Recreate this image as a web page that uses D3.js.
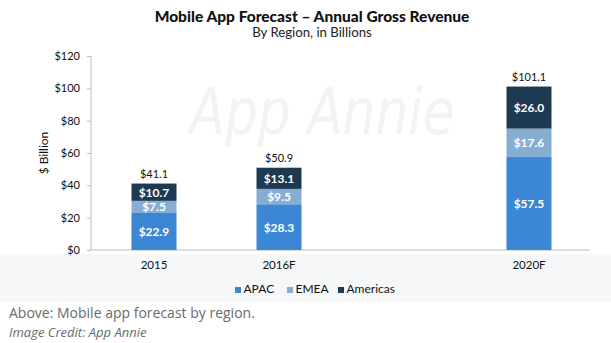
<!DOCTYPE html>
<html><head><meta charset="utf-8">
<script src="https://cdn.jsdelivr.net/npm/d3@7"></script>
<style>
body{margin:0;background:#fff;}
svg{display:block;}
</style></head>
<body>
<svg id="chart" width="611" height="343"></svg>
<script>
const categories = ["2015", "2016F", "", "2020F"];
const years = ["2015", "2016F", "2020F"];
const apac = [22.9, 28.3, 57.5];
const emea = [7.5, 9.5, 17.6];
const americas = [10.7, 13.1, 26.0];
const totals = [41.1, 50.9, 101.1];
const seriesNames = ["APAC", "EMEA", "Americas"];
const colors = ["#3b86d5", "#86aed3", "#1e3a52"];
const yTicks = [0, 20, 40, 60, 80, 100, 120];

const svg = d3.select("#chart");
const font = "Lato, 'Open Sans', sans-serif";

// bottom tinted band
svg.append("rect").attr("x", 0).attr("y", 254).attr("width", 611).attr("height", 48).attr("fill", "#f5f7f9");

// watermark
svg.append("text").attr("x", 0).attr("y", 0).attr("text-anchor", "middle")
  .attr("font-family", "'Liberation Sans Narrow','DejaVu Sans Condensed',sans-serif").attr("font-style", "italic")
  .attr("font-size", 64).attr("fill", "#f3f3f3").attr("transform", "translate(322,134) scale(0.9,1)").text("App Annie");

const x = d3.scaleBand().domain(categories).range([91.5, 591.5]).paddingInner(0.64).paddingOuter(0.32);
const y = d3.scaleLinear().domain([0, 120]).range([250, 56]);

// title
svg.append("text").attr("x", 312).attr("y", 22).attr("text-anchor", "middle")
  .attr("font-family", font).attr("font-weight", 900).attr("font-size", 15.5).attr("fill", "#111")
  .text("Mobile App Forecast – Annual Gross Revenue");
svg.append("text").attr("x", 312).attr("y", 37).attr("text-anchor", "middle")
  .attr("font-family", font).attr("font-size", 13.2).attr("fill", "#222")
  .text("By Region, in Billions");

// y axis
const yAxis = svg.append("g").attr("transform", "translate(91,0)")
  .call(d3.axisLeft(y).tickValues(yTicks).tickSize(4).tickPadding(7).tickFormat(d => "$" + d));
yAxis.select(".domain").attr("stroke", "#bbb").attr("d", "M0," + y(120) + "V" + y(0));
yAxis.selectAll(".tick line").attr("stroke", "#bbb");
yAxis.selectAll(".tick text").attr("font-family", font).attr("font-size", 11).attr("fill", "#111");

svg.append("text").attr("transform", "translate(48,153) rotate(-90)").attr("text-anchor", "middle")
  .attr("font-family", font).attr("font-size", 12).attr("fill", "#111").text("$ Billion");

// baseline
svg.append("line").attr("x1", 91).attr("x2", 590).attr("y1", y(0)).attr("y2", y(0)).attr("stroke", "#bbb");

// stacks
const rows = years.map((yr, i) => ({year: yr, APAC: apac[i], EMEA: emea[i], Americas: americas[i], total: totals[i]}));
const stack = d3.stack().keys(seriesNames)(rows);
stack.forEach((layer, li) => {
  const g = svg.append("g");
  g.selectAll("rect").data(layer).join("rect")
    .attr("x", d => x(d.data.year)).attr("width", x.bandwidth())
    .attr("y", d => y(d[1])).attr("height", d => y(d[0]) - y(d[1]))
    .attr("fill", colors[li]);
  g.selectAll("text").data(layer).join("text")
    .attr("x", d => x(d.data.year) + x.bandwidth() / 2)
    .attr("y", d => (y(d[0]) + y(d[1])) / 2 + 4.5)
    .attr("text-anchor", "middle").attr("font-family", font).attr("font-weight", 700)
    .attr("font-size", 12).attr("fill", "#fff")
    .text(d => "$" + (d[1] - d[0]).toFixed(1));
});

svg.append("g").selectAll("text").data(rows).join("text")
  .attr("x", d => x(d.year) + x.bandwidth() / 2).attr("y", d => y(d.total) - 6)
  .attr("text-anchor", "middle").attr("font-family", font).attr("font-size", 11).attr("fill", "#111")
  .text(d => "$" + d.total.toFixed(1));

// x labels
svg.append("g").selectAll("text").data(years).join("text")
  .attr("x", d => x(d) + x.bandwidth() / 2).attr("y", 269)
  .attr("text-anchor", "middle").attr("font-family", font).attr("font-size", 11.5).attr("fill", "#111")
  .text(d => d);

// legend
const legendX = [235, 287, 338];
const lg = svg.append("g");
seriesNames.forEach((n, i) => {
  lg.append("rect").attr("x", legendX[i]).attr("y", 287).attr("width", 6).attr("height", 6).attr("fill", colors[i]);
  lg.append("text").attr("x", legendX[i] + 8.5).attr("y", 293).attr("font-family", font).attr("font-size", 12)
    .attr("fill", "#111").text(n);
});

// caption
svg.append("text").attr("x", 9).attr("y", 318).attr("font-family", "'Open Sans', sans-serif")
  .attr("font-size", 14).attr("fill", "#6a6a6a").text("Above: Mobile app forecast by region.");
svg.append("text").attr("x", 9).attr("y", 337).attr("font-family", "'Open Sans', sans-serif")
  .attr("font-style", "italic").attr("font-size", 13).attr("fill", "#6a6a6a").text("Image Credit: App Annie");
</script>
</body></html>
